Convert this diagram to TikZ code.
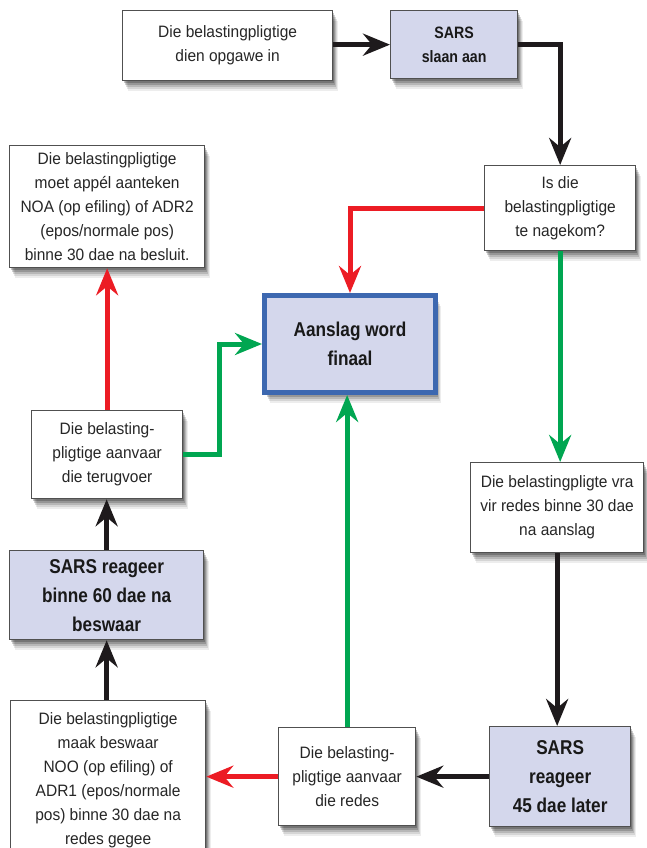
\documentclass[tikz,border=0pt]{standalone}
\usepackage{fontspec}
\setmainfont{Liberation Sans}[FakeStretch=0.94]
\newfontfamily\bcond{Liberation Sans}[FakeStretch=0.86]
\usetikzlibrary{arrows.meta,shadows,calc}
\definecolor{lav}{RGB}{212,215,236}
\definecolor{bord}{RGB}{80,80,80}
\definecolor{blueb}{RGB}{61,104,176}
\definecolor{redl}{RGB}{236,28,36}
\definecolor{greenl}{RGB}{0,166,81}
\definecolor{blkl}{RGB}{30,26,28}
\tikzset{
  softshadow/.style={
    general shadow={shadow xshift=5pt,shadow yshift=-10pt,fill=black,opacity=.07},
    general shadow={shadow xshift=4pt,shadow yshift=-8pt,fill=black,opacity=.1},
    general shadow={shadow xshift=3pt,shadow yshift=-6pt,fill=black,opacity=.14},
    general shadow={shadow xshift=2pt,shadow yshift=-4pt,fill=black,opacity=.18},
    general shadow={shadow xshift=1pt,shadow yshift=-2pt,fill=black,opacity=.22}},
  box/.style={draw=bord,line width=1.3pt,fill=white,softshadow,align=center,
    inner sep=0pt,anchor=north west,text=black!85,
    font=\fontsize{16.5}{24}\selectfont},
  sbox/.style={box,fill=lav,text=black!90,font=\bcond\bfseries\fontsize{20}{29}\selectfont},
  conn/.style={line width=5pt,-{Stealth[length=27pt,width=22pt,inset=9pt]}},
  blk/.style={conn,draw=blkl},
  redc/.style={conn,draw=redl},
  grnc/.style={conn,draw=greenl},
}
\begin{document}
\begin{tikzpicture}[x=1pt,y=-1pt]
\useasboundingbox (0,0) rectangle (647,848);
\clip (0,0) rectangle (647,848);
\node[box,minimum width=210pt,minimum height=70pt] (b1) at (122,10)
  {Die belastingpligtige\\dien opgawe in};
\node[sbox,minimum width=127pt,minimum height=68pt,font=\bcond\bfseries\fontsize{16.5}{24}\selectfont] (b2) at (390,10)
  {SARS\\slaan aan};
\node[box,minimum width=151pt,minimum height=85pt] (b3) at (484,165)
  {Is die\\belastingpligtige\\te nagekom?};
\node[box,minimum width=195pt,minimum height=122pt] (b4) at (9,145)
  {Die belastingpligtige\\moet appél aanteken\\NOA (op efiling) of ADR2\\(epos/normale pos)\\binne 30 dae na besluit.};
\node[sbox,draw=blueb,line width=5pt,minimum width=171pt,minimum height=97pt] (b5) at (262,293)
  {Aanslag word\\finaal};
\node[box,minimum width=151pt,minimum height=88pt] (b6) at (31,410)
  {Die belasting-\\pligtige aanvaar\\die terugvoer};
\node[box,minimum width=173pt,minimum height=90pt] (b7) at (470,462)
  {Die belastingpligte vra\\vir redes binne 30 dae\\na aanslag};
\node[sbox,minimum width=194pt,minimum height=89pt] (b8) at (9,550)
  {SARS reageer\\binne 60 dae na\\beswaar};
\node[box,minimum width=195pt,minimum height=160pt] (b9) at (10,700)
  {Die belastingpligtige\\maak beswaar\\NOO (op efiling) of\\ADR1 (epos/normale\\pos) binne 30 dae na\\redes gegee};
\node[box,minimum width=137pt,minimum height=98pt] (b10) at (278,727)
  {Die belasting-\\pligtige aanvaar\\die redes};
\node[sbox,minimum width=141pt,minimum height=100pt] (b11) at (489,726)
  {SARS\\reageer\\45 dae later};

\draw[blk] (b1.east |- b2.west) -- (b2.west);
\draw[blk] (b2.east) -| (b3.north);
\draw[redc] (b3.west) -| (b5.north);
\draw[grnc] (b3.south) -- (b3.south |- b7.north);
\draw[blk] (b7.south) -- (b7.south |- b11.north);
\draw[blk] (b11.west) -- (b10.east);
\draw[redc] (b10.west) -- (b10.west -| b9.east);
\draw[grnc] (b10.north) -- (b10.north |- b5.south);
\draw[blk] (b9.north -| b8.south) -- (b8.south);
\draw[blk] (b8.north) -- (b8.north |- b6.south);
\draw[redc] (b6.north) -- (b6.north |- b4.south);
\draw[grnc] (b6.east) -- ++(36,0) |- (b5.west);
\end{tikzpicture}
\end{document}
